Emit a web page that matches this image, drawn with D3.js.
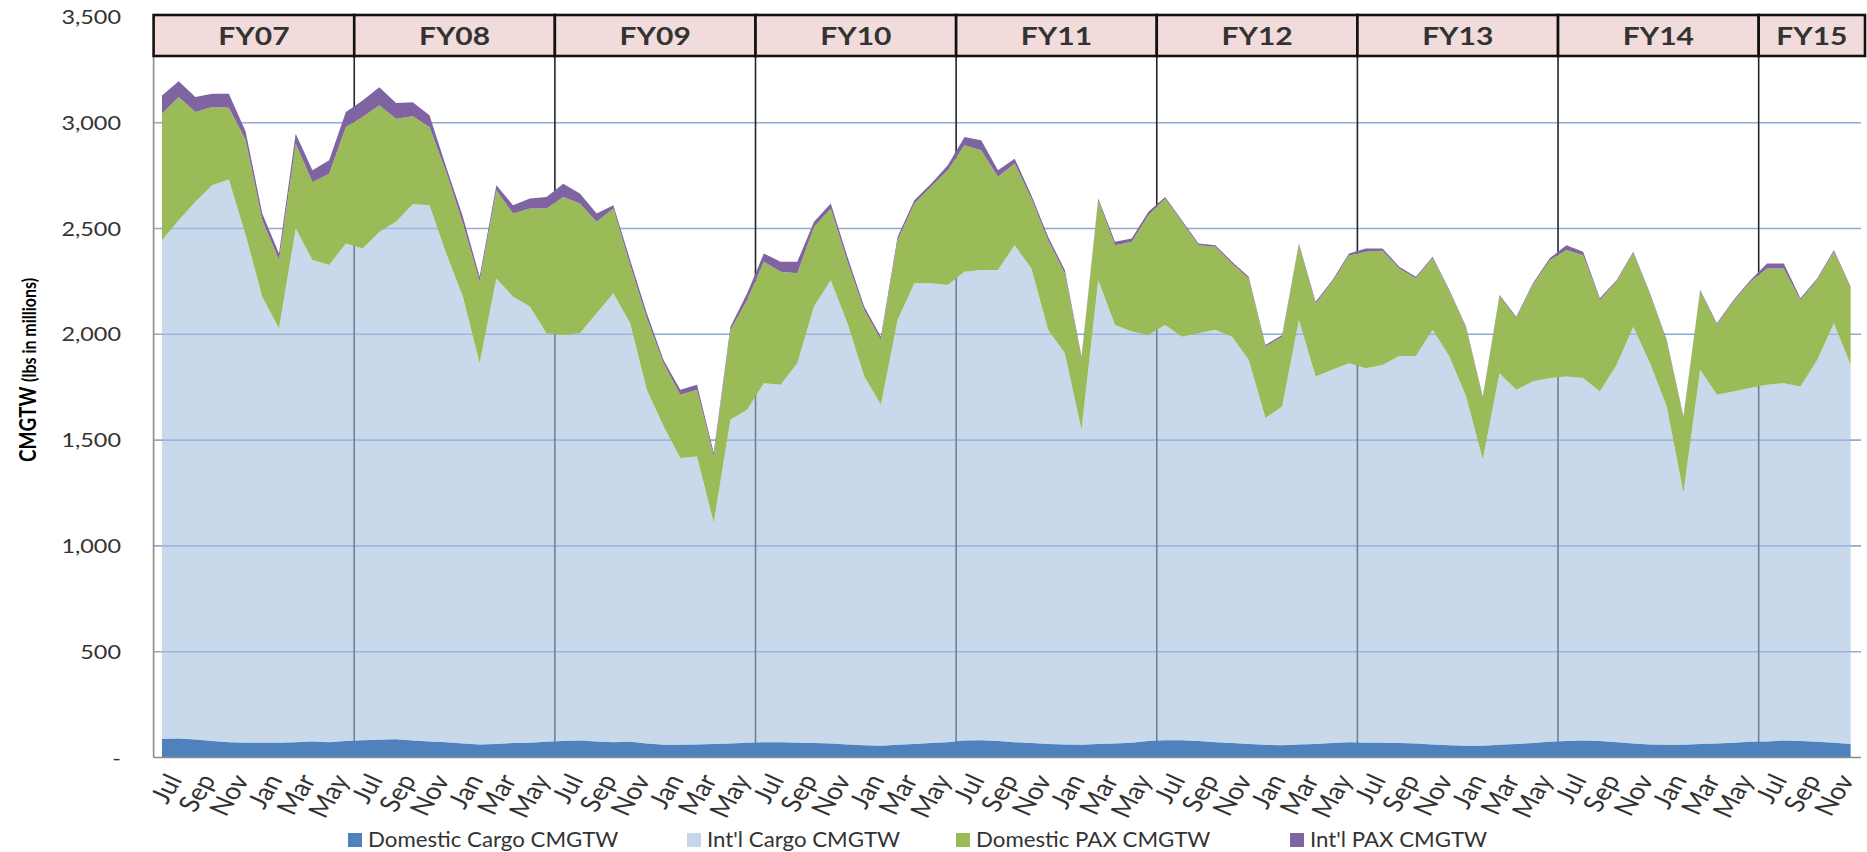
<!DOCTYPE html>
<html><head><meta charset="utf-8">
<script src="https://cdn.jsdelivr.net/npm/d3@7/dist/d3.min.js"></script>
<style>body{margin:0;background:#fff}svg{display:block}</style>
</head><body>
<svg id="c" width="1867" height="852"></svg>
<script>
// ---------- DATA ----------
const monthNames = ["Jul","Aug","Sep","Oct","Nov","Dec","Jan","Feb","Mar","Apr","May","Jun"];
const fiscalYears = ["FY07","FY08","FY09","FY10","FY11","FY12","FY13","FY14","FY15"];
const monthCount = 102; // Jul FY07 .. Dec FY15
const categories = d3.range(monthCount).map(i => monthNames[i % 12] + " " + fiscalYears[Math.floor(i / 12)]);
const xTickLabels = ["Jul","Sep","Nov","Jan","Mar","May"];
const yTicks = [0,500,1000,1500,2000,2500,3000,3500];
const yTickLabels = ["-","500","1,000","1,500","2,000","2,500","3,000","3,500"];
const seriesNames = ["Domestic Cargo CMGTW","Int'l Cargo CMGTW","Domestic PAX CMGTW","Int'l PAX CMGTW"];

const domesticCargo = [88,90,85,78,72,70,70,70,72,76,72,78,
 82,84,86,80,76,72,66,62,64,68,70,74,
 78,80,76,72,74,66,60,60,62,64,66,70,
 72,72,70,68,66,62,58,56,60,64,68,72,
 80,82,78,72,68,64,62,60,64,66,70,78,
 82,82,78,72,68,64,60,58,62,64,68,72,
 70,70,68,66,62,58,56,56,60,64,68,74,
 78,80,78,72,66,62,60,60,64,66,70,74,
 76,80,78,74,70,64];
const intlCargo = [2357,2449,2541,2626,2659,2400,2108,1958,2428,2275,2255,2351,
 2324,2400,2446,2535,2534,2310,2112,1801,2200,2110,2061,1931,
 1919,1925,2023,2122,1978,1672,1505,1355,1361,1045,1530,1573,
 1697,1689,1793,2063,2190,1990,1744,1611,2008,2177,2173,2161,
 2216,2222,2226,2349,2243,1957,1849,1489,2192,1978,1943,1919,
 1962,1907,1927,1949,1921,1815,1544,1601,2006,1736,1764,1791,
 1770,1785,1830,1832,1959,1837,1650,1352,1756,1674,1709,1719,
 1722,1713,1652,1783,1970,1801,1599,1190,1768,1648,1660,1672,
 1685,1689,1675,1805,1982,1791];
const domesticPax = [597,582,424,370,340,450,361,323,401,369,432,551,
 621,598,487,415,370,385,346,386,417,393,463,589,
 652,613,433,400,275,338,298,299,315,316,424,519,
 574,535,425,377,338,291,313,307,377,377,456,542,
 597,566,440,386,331,424,377,338,378,377,424,566,
 598,543,416,393,346,385,338,330,353,346,416,509,
 550,540,413,367,339,308,324,292,364,339,457,557,
 598,581,432,394,348,325,309,356,371,332,425,502,
 550,542,409,378,339,363];
const intlPax = [87,75,71,63,66,40,32,31,47,55,63,70,
 78,86,74,67,55,24,31,23,23,39,48,55,
 63,47,39,16,24,23,16,24,23,15,16,32,
 39,47,55,24,24,23,16,15,16,16,15,24,
 39,47,31,23,15,16,16,8,8,16,16,16,
 7,7,8,7,8,8,8,8,8,8,8,10,
 16,11,8,7,6,6,6,6,6,6,7,9,
 23,16,8,7,6,6,6,6,6,6,7,8,
 24,24,8,7,7,7];

// ---------- LAYOUT ----------
const svg = d3.select("#c");
const plotLeft = 153.6, plotRight = 1859, gridRight = 1861;
const yBottom = 757.5, unit500 = 105.8;
const headerTop = 15, headerBottom = 56, headerRight = 1865;
const sx = 1.2; // horizontal stretch of the reference's text
const font = "Lato, 'DejaVu Sans', sans-serif";
const colors = ["#4f81bd","rgb(165,192,223)","#9bbb59","#8064a2"];

const x = d3.scaleBand().domain(d3.range(monthCount)).range([plotLeft, plotRight]);
const cx = i => x(i) + x.bandwidth() / 2;
const y = d3.scaleLinear().domain([0, 3500]).range([yBottom, yBottom - 7 * unit500]);

const rows = d3.range(monthCount).map(i => ({
  i, cat: categories[i],
  dc: domesticCargo[i], ic: intlCargo[i], dp: domesticPax[i], ip: intlPax[i]
}));
const stack = d3.stack().keys(["dc","ic","dp","ip"]);
const layers = stack(rows);

// gridlines
svg.append("g").selectAll("line").data(yTicks.filter(t => t > 0 && t < 3500)).join("line")
  .attr("x1", plotLeft).attr("x2", gridRight)
  .attr("y1", d => y(d)).attr("y2", d => y(d))
  .attr("stroke", "#8eaad0").attr("stroke-width", 1.6);

// fiscal year separators
svg.append("g").selectAll("line").data(d3.range(1, fiscalYears.length)).join("line")
  .attr("x1", k => x(12 * k)).attr("x2", k => x(12 * k))
  .attr("y1", headerBottom).attr("y2", yBottom)
  .attr("stroke", "#262626").attr("stroke-width", 1.6);

// areas
const area = d3.area()
  .x(d => cx(d.data.i))
  .y0(d => y(d[0]))
  .y1(d => y(d[1]));
svg.append("g").selectAll("path").data(layers).join("path")
  .attr("d", area)
  .attr("fill", (d, k) => colors[k])
  .attr("fill-opacity", (d, k) => k === 1 ? 0.6 : 1);

// axes lines
svg.append("line").attr("x1", plotLeft).attr("x2", plotLeft).attr("y1", headerBottom).attr("y2", yBottom)
  .attr("stroke", "#8c8c8c").attr("stroke-width", 1.6);
svg.append("line").attr("x1", plotLeft).attr("x2", gridRight).attr("y1", yBottom).attr("y2", yBottom)
  .attr("stroke", "#8c8c8c").attr("stroke-width", 1.6);

// y tick labels
svg.append("g").selectAll("text").data(yTicks).join("text")
  .attr("transform", (d) => `translate(121,${y(d)}) scale(${sx},1)`)
  .attr("text-anchor", "end").attr("dy", "0.36em")
  .attr("font-family", font).attr("font-size", 19.5).attr("fill", "#333")
  .text((d, k) => yTickLabels[k]);

// y title
const yt = svg.append("text")
  .attr("transform", `translate(36,370) scale(${sx},1) rotate(-90)`)
  .attr("text-anchor", "middle").attr("font-family", font).attr("font-weight", "bold").attr("fill", "#000");
yt.append("tspan").attr("font-size", 19).text("CMGTW ");
yt.append("tspan").attr("font-size", 16).text("(lbs in millions)");

// x tick labels (every other month)
svg.append("g").selectAll("text").data(d3.range(0, monthCount, 2)).join("text")
  .attr("transform", i => `translate(${cx(i) + 3},772) scale(${sx},1) rotate(-62)`)
  .attr("text-anchor", "end").attr("dy", "0.72em")
  .attr("font-family", font).attr("font-size", 23.5).attr("fill", "#333")
  .text(i => xTickLabels[(i / 2) % 6]);

// header
const hdr = svg.append("g");
fiscalYears.forEach((fy, k) => {
  const x0 = x(12 * k);
  const x1 = k === fiscalYears.length - 1 ? headerRight : x(12 * k + 12);
  hdr.append("rect").attr("x", x0).attr("y", headerTop).attr("width", x1 - x0).attr("height", headerBottom - headerTop)
    .attr("fill", "#f2dcdb").attr("stroke", "#111").attr("stroke-width", 2.6);
  hdr.append("text")
    .attr("transform", `translate(${(x0 + x1) / 2},${(headerTop + headerBottom) / 2}) scale(${sx},1)`)
    .attr("text-anchor", "middle").attr("dy", "0.36em")
    .attr("font-family", font).attr("font-weight", "bold").attr("font-size", 25).attr("fill", "#333")
    .text(fy);
});

// legend
const legendX = [348, 687, 956, 1290];
const legendColors = ["#4f81bd","#c6d6ea","#9bbb59","#8064a2"];
const lg = svg.append("g").selectAll("g").data(seriesNames).join("g")
  .attr("transform", (d, k) => `translate(${legendX[k]},840)`);
lg.append("rect").attr("x", 0).attr("y", -7).attr("width", 14).attr("height", 14)
  .attr("fill", (d, k) => legendColors[k]);
lg.append("text").attr("transform", `translate(20,0) scale(1.07,1)`).attr("dy", "0.36em")
  .attr("font-family", font).attr("font-size", 20.8).attr("fill", "#333").text(d => d);
</script>
</body></html>
